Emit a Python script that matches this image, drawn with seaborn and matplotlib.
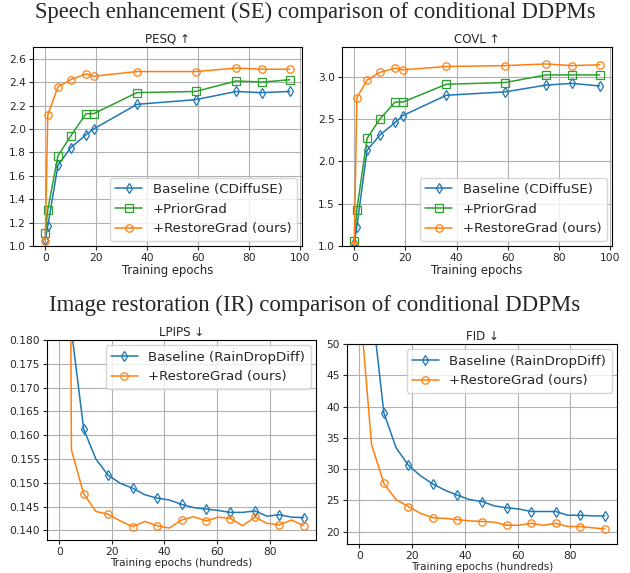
import numpy as np
import pandas as pd
import seaborn as sns
import matplotlib
matplotlib.use("Agg")
import matplotlib.pyplot as plt

# Speech enhancement data (epochs)
se_epochs = [0, 1, 5, 10, 16, 19, 36, 59, 75, 85, 96]
pesq_base = [1.05, 1.17, 1.69, 1.84, 1.95, 2.00, 2.21, 2.25, 2.32, 2.31, 2.32]
pesq_prior = [1.11, 1.31, 1.77, 1.94, 2.13, 2.13, 2.31, 2.32, 2.41, 2.40, 2.42]
pesq_restore = [1.04, 2.12, 2.36, 2.42, 2.47, 2.45, 2.49, 2.49, 2.52, 2.51, 2.51]
covl_base = [1.03, 1.23, 2.13, 2.31, 2.46, 2.54, 2.78, 2.82, 2.90, 2.92, 2.89]
covl_prior = [1.06, 1.43, 2.27, 2.50, 2.70, 2.70, 2.91, 2.93, 3.02, 3.02, 3.02]
covl_restore = [1.01, 2.75, 2.96, 3.05, 3.10, 3.08, 3.12, 3.13, 3.15, 3.13, 3.14]

# Image restoration data (hundreds of epochs)
ir_epochs = [0, 4.65, 9.3, 13.95, 18.6, 23.25, 27.9, 32.55, 37.2, 41.85, 46.5,
             51.15, 55.8, 60.45, 65.1, 69.75, 74.4, 79.05, 83.7, 88.35, 93]
lpips_base = [0.300, 0.182, 0.1613, 0.1550, 0.1516, 0.1499, 0.1489, 0.1475, 0.1468,
              0.1464, 0.1455, 0.1448, 0.1445, 0.1442, 0.1438, 0.1438, 0.1441,
              0.1430, 0.1433, 0.1428, 0.1427]
lpips_restore = [0.600, 0.1569, 0.1477, 0.1440, 0.1434, 0.1420, 0.1408, 0.1419, 0.1410,
                 0.1405, 0.1422, 0.1429, 0.1420, 0.1428, 0.1425, 0.1410, 0.1428,
                 0.1415, 0.1412, 0.1422, 0.1410]
fid_base = [100.0, 56.6, 39.0, 33.4, 30.6, 28.9, 27.6, 26.6, 25.8, 25.1, 24.8,
            24.1, 23.8, 23.6, 23.2, 23.2, 23.2, 22.6, 22.6, 22.5, 22.5]
fid_restore = [57.6, 33.9, 27.7, 25.1, 24.0, 22.9, 22.2, 22.1, 21.9, 21.7, 21.6,
               21.5, 21.0, 21.0, 21.3, 21.0, 21.3, 20.8, 20.8, 20.6, 20.4]

se_labels = ["Baseline (CDiffuSE)", "+PriorGrad", "+RestoreGrad (ours)"]
ir_labels = ["Baseline (RainDropDiff)", "+RestoreGrad (ours)"]

sns.set_style("ticks")
plt.rcParams['font.family'] = ['DejaVu Sans']

fig = plt.figure(figsize=(6.3, 5.73), dpi=100)

blue, orange, green = "tab:blue", "tab:orange", "tab:green"


def draw(ax, x, series, labels, colors, markers, markevery=1):
    for y, lab, c, m in zip(series, labels, colors, markers):
        sns.lineplot(x=x, y=y, ax=ax, label=lab, color=c, marker=m,
                     markersize=5.3, markerfacecolor="none", markeredgecolor=c,
                     markeredgewidth=0.9, linewidth=1.1, markevery=markevery)
    ax.grid(True, color="#b0b0b0", linewidth=0.8)
    ax.tick_params(labelsize=7.7, length=3, width=0.8, pad=2)
    for s in ax.spines.values():
        s.set_linewidth(0.8)
        s.set_color("black")
    ax.set_ylabel("")


ax1 = fig.add_axes([0.0524, 0.5707, 0.427, 0.3473])
draw(ax1, se_epochs, [pesq_base, pesq_prior, pesq_restore], se_labels,
     [blue, green, orange], ["d", "s", "o"])
ax1.set_ylim(1.0, 2.7)
ax1.set_yticks(np.arange(1.0, 2.61, 0.2))
ax1.set_xticks(range(0, 101, 20))
ax1.set_title("PESQ ↑", fontsize=8.6, pad=3)
ax1.set_xlabel("Training epochs", fontsize=8.4, labelpad=1)
ax1.legend(loc="lower right", fontsize=9.6, borderaxespad=0.4)

ax2 = fig.add_axes([0.5429, 0.5707, 0.4286, 0.3473])
draw(ax2, se_epochs, [covl_base, covl_prior, covl_restore], se_labels,
     [blue, green, orange], ["d", "s", "o"])
ax2.set_ylim(1.0, 3.35)
ax2.set_yticks([1.0, 1.5, 2.0, 2.5, 3.0])
ax2.set_xticks(range(0, 101, 20))
ax2.set_title("COVL ↑", fontsize=8.6, pad=3)
ax2.set_xlabel("Training epochs", fontsize=8.4, labelpad=1)
ax2.legend(loc="lower right", fontsize=9.6, borderaxespad=0.4)

ax3 = fig.add_axes([0.0746, 0.0576, 0.427, 0.349])
draw(ax3, ir_epochs, [lpips_base, lpips_restore], ir_labels,
     [blue, orange], ["d", "o"], markevery=2)
ax3.set_xlim(-4.65, 97.65)
ax3.set_ylim(0.138, 0.180)
ax3.set_yticks(np.arange(0.140, 0.1801, 0.005))
ax3.yaxis.set_major_formatter(matplotlib.ticker.FormatStrFormatter("%.3f"))
ax3.set_xticks(range(0, 81, 20))
ax3.set_title("LPIPS ↓", fontsize=8.6, pad=3)
ax3.set_xlabel("Training epochs (hundreds)", fontsize=7.5, labelpad=0.5)
ax3.legend(loc="upper right", fontsize=9.6, borderaxespad=0.4)

ax4 = fig.add_axes([0.5508, 0.0506, 0.4286, 0.349])
draw(ax4, ir_epochs, [fid_base, fid_restore], ir_labels,
     [blue, orange], ["d", "o"], markevery=2)
ax4.set_xlim(-4.65, 97.65)
ax4.set_ylim(18, 50)
ax4.set_yticks(range(20, 51, 5))
ax4.set_xticks(range(0, 81, 20))
ax4.set_title("FID ↓", fontsize=8.6, pad=3)
ax4.set_xlabel("Training epochs (hundreds)", fontsize=7.5, labelpad=0.5)
ax4.legend(loc="upper right", fontsize=9.6, borderaxespad=0.4)

fig.text(0.5, 1 - 12 / 573, "Speech enhancement (SE) comparison of conditional DDPMs",
         ha="center", va="center", fontsize=16.3, family="Liberation Serif")
fig.text(0.5, 1 - 305 / 573, "Image restoration (IR) comparison of conditional DDPMs",
         ha="center", va="center", fontsize=16.5, family="Liberation Serif")

fig.savefig("out.png", dpi=100)
